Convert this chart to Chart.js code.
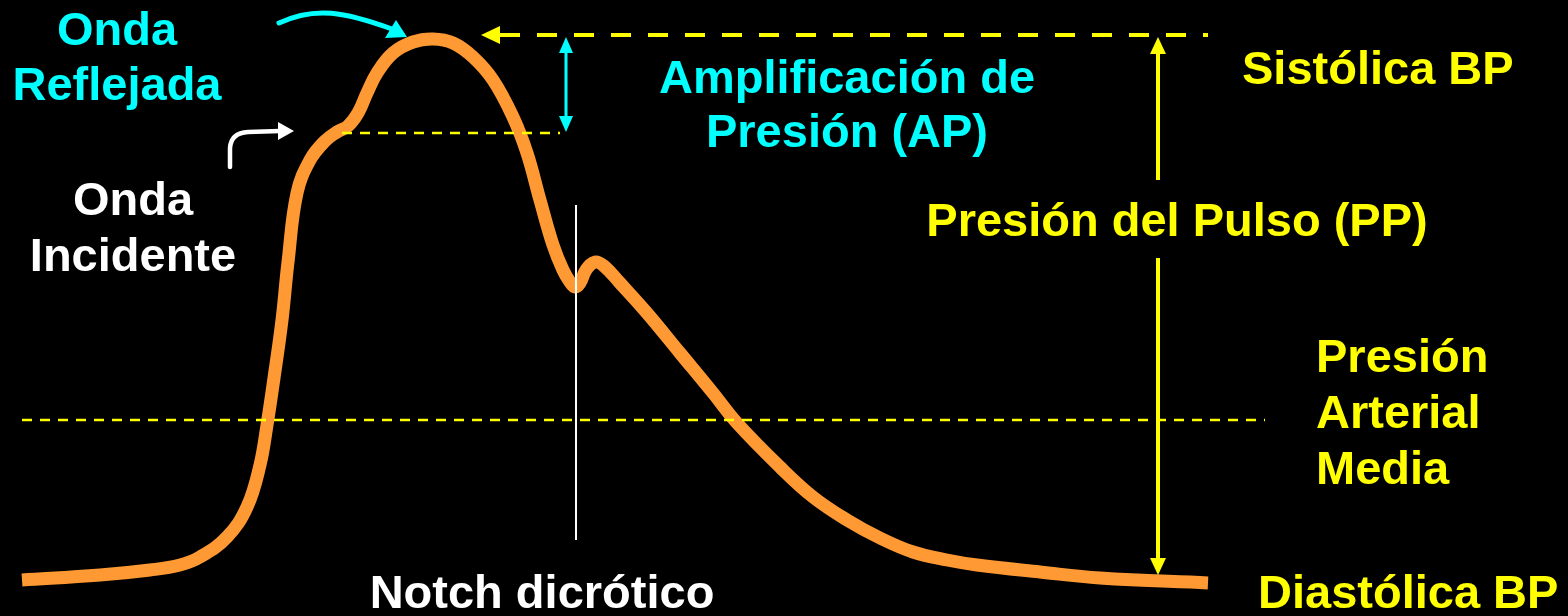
<!DOCTYPE html>
<html>
<head>
<meta charset="utf-8">
<script src="https://cdn.jsdelivr.net/npm/chart.js@4"></script>
<style>
  html, body { margin: 0; padding: 0; background: #000; }
  #wrap { width: 1568px; height: 616px; position: relative; }
</style>
</head>
<body>
<div id="wrap"><canvas id="pulseChart"></canvas></div>
<script>
// Pulse wave (x = time units, y = level, screen-down axis)
const waveX = [22, 100, 150, 180, 200, 227, 247, 260, 267, 274, 282, 288, 297, 310, 325, 337, 348, 358, 367, 377, 393, 413, 433, 453, 473, 493, 513, 527, 540, 553, 563, 570, 575, 580, 586, 595, 604, 620, 647, 680, 713, 737, 780, 813, 847, 880, 913, 947, 977, 1040, 1100, 1208];
const waveY = [580, 575, 570, 565, 557, 537, 507, 465, 425, 378, 320, 262, 193, 160, 141, 132, 126, 113, 93, 73, 53, 42, 39, 43, 57, 80, 117, 153, 200, 245, 270, 282, 287, 283, 270, 262, 266, 283, 313, 353, 393, 423, 467, 497, 520, 538, 552, 560, 565, 572, 578, 583];

// reference levels
const systolicLevel = 35;
const shoulderLevel = 133;
const meanLevel = 420;
const diastolicLevel = 575;
const notchX = 576;
const ppX = 1158;
const apX = 566;

const pts = (xs, ys) => xs.map((x, i) => ({ x: x, y: ys[i] }));

const ctx = document.getElementById("pulseChart").getContext("2d");

// Arrows and labels
const annotations = {
  id: "annotations",
  afterDatasetsDraw(chart) {
    const c = chart.ctx;
    const sx = chart.scales.x, sy = chart.scales.y;
    const X = (v) => sx.getPixelForValue(v);
    const Y = (v) => sy.getPixelForValue(v);

    function tri(color, a, b, d) {
      c.fillStyle = color;
      c.beginPath();
      c.moveTo(X(a[0]), Y(a[1]));
      c.lineTo(X(b[0]), Y(b[1]));
      c.lineTo(X(d[0]), Y(d[1]));
      c.closePath();
      c.fill();
    }

    c.save();
    // systolic arrow head (left)
    tri("#ffff00", [481, systolicLevel], [500, systolicLevel - 9], [500, systolicLevel + 9]);
    // PP arrow heads
    tri("#ffff00", [ppX, systolicLevel + 2], [ppX - 8, systolicLevel + 19], [ppX + 8, systolicLevel + 19]);
    tri("#ffff00", [ppX, diastolicLevel], [ppX - 8, diastolicLevel - 17], [ppX + 8, diastolicLevel - 17]);
    // AP arrow heads
    tri("#00ffff", [apX, systolicLevel + 2], [apX - 7, systolicLevel + 18], [apX + 7, systolicLevel + 18]);
    tri("#00ffff", [apX, shoulderLevel - 1], [apX - 7, shoulderLevel - 17], [apX + 7, shoulderLevel - 17]);

    // cyan curved arrow (reflected wave)
    c.strokeStyle = "#00ffff";
    c.lineWidth = 5;
    c.lineCap = "round";
    c.beginPath();
    c.moveTo(X(279), Y(23));
    c.bezierCurveTo(X(315), Y(6), X(345), Y(12), X(392), Y(29));
    c.stroke();
    tri("#00ffff", [407, 37], [385, 38], [396, 20]);

    // white curved arrow (incident wave)
    c.strokeStyle = "#ffffff";
    c.lineWidth = 4.5;
    c.beginPath();
    c.moveTo(X(230), Y(167));
    c.lineTo(X(230), Y(148));
    c.quadraticCurveTo(X(231), Y(133), X(248), Y(132));
    c.lineTo(X(280), Y(131));
    c.stroke();
    tri("#ffffff", [294, 131], [278, 122], [278, 140]);

    // labels
    c.font = "bold 47px 'Liberation Sans', Arial, sans-serif";
    c.textBaseline = "middle";
    function label(text, x, y, color, align) {
      c.fillStyle = color;
      c.textAlign = align || "center";
      c.fillText(text, X(x), Y(y));
    }
    label("Onda", 117, 32, "#00ffff");
    label("Reflejada", 117, 87, "#00ffff");
    label("Amplificación de", 847, 80, "#00ffff");
    label("Presión (AP)", 847, 134, "#00ffff");
    label("Onda", 133, 202, "#ffffff");
    label("Incidente", 133, 258, "#ffffff");
    label("Sistólica BP", 1242, 71, "#ffff00", "left");
    label("Presión del Pulso (PP)", 1177, 223, "#ffff00");
    label("Presión", 1316, 359, "#ffff00", "left");
    label("Arterial", 1316, 415, "#ffff00", "left");
    label("Media", 1316, 471, "#ffff00", "left");
    label("Notch dicrótico", 542, 595, "#ffffff");
    label("Diastólica BP", 1258, 595, "#ffff00", "left");
    c.restore();
  }
};

new Chart(ctx, {
  type: "line",
  data: {
    datasets: [
      {
        label: "Media",
        data: pts([22, 1265], [meanLevel, meanLevel]),
        borderColor: "#ffff00",
        borderWidth: 2.5,
        borderDash: [10, 8],
        pointRadius: 0,
      },
      {
        label: "Hombro",
        data: pts([342, 560], [shoulderLevel, shoulderLevel]),
        borderColor: "#ffff00",
        borderWidth: 2.5,
        borderDash: [10, 8],
        pointRadius: 0,
      },
      {
        label: "Sistólica",
        data: pts([500, 1208], [systolicLevel, systolicLevel]),
        borderColor: "#ffff00",
        borderWidth: 4,
        borderDash: [20, 17],
        pointRadius: 0,
      },
      {
        label: "Notch",
        data: pts([notchX, notchX], [205, 540]),
        borderColor: "#ffffff",
        borderWidth: 2,
        pointRadius: 0,
      },
      {
        label: "PP arriba",
        data: pts([ppX, ppX], [systolicLevel + 15, 180]),
        borderColor: "#ffff00",
        borderWidth: 4,
        pointRadius: 0,
      },
      {
        label: "PP abajo",
        data: pts([ppX, ppX], [258, diastolicLevel - 14]),
        borderColor: "#ffff00",
        borderWidth: 4,
        pointRadius: 0,
      },
      {
        label: "AP",
        data: pts([apX, apX], [systolicLevel + 15, shoulderLevel - 15]),
        borderColor: "#00ffff",
        borderWidth: 3,
        pointRadius: 0,
      },
      {
        label: "Onda de pulso",
        data: pts(waveX, waveY),
        borderColor: "#ff9933",
        borderWidth: 13,
        borderCapStyle: "butt",
        borderJoinStyle: "round",
        tension: 0.4,
        pointRadius: 0,
        order: 1,
      },
    ],
  },
  options: {
    responsive: true,
    maintainAspectRatio: false,
    animation: false,
    layout: { padding: 0 },
    plugins: {
      legend: { display: false },
      tooltip: { enabled: false },
    },
    scales: {
      x: { type: "linear", min: 0, max: 1568, display: false },
      y: { type: "linear", min: 0, max: 616, reverse: true, display: false },
    },
  },
  plugins: [annotations],
});
</script>
</body>
</html>
